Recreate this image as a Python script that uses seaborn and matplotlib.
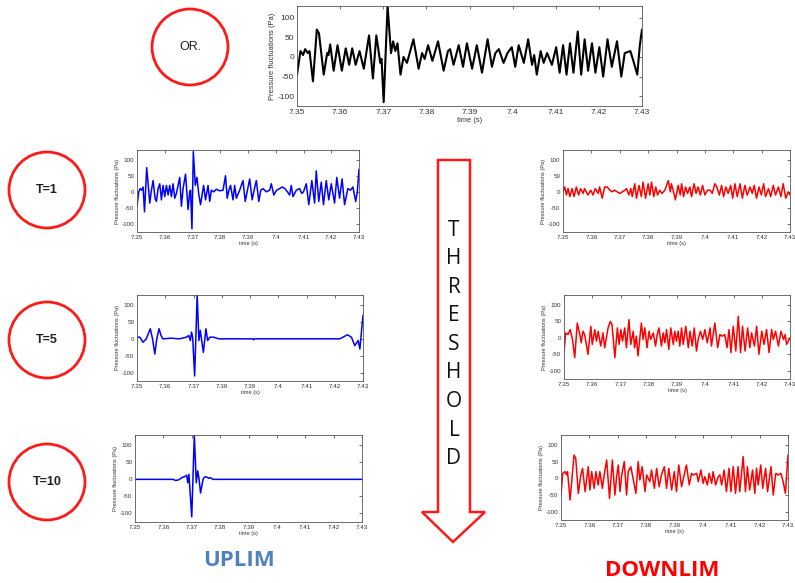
import numpy as np
import matplotlib
matplotlib.use("Agg")
import matplotlib.pyplot as plt
from matplotlib.patches import Circle, Polygon
import seaborn as sns

# turning points: time in ms after 7.35 s, pressure in Pa
or_t = [0.0, 0.8, 1.4, 1.9, 2.5, 2.9, 3.7, 4.6, 5.1, 6.2, 7.0, 7.3, 7.7, 8.5, 9.4, 10.4,
        11.3, 12.1, 12.8, 13.6, 14.5, 15.5, 16.7, 17.6, 18.4, 19.3, 19.6, 20.1, 21.0, 21.8,
        22.3, 22.8, 23.3, 24.0, 24.7, 25.5, 27.0, 28.2, 29.0, 29.6, 30.4, 31.4, 32.7, 34.0,
        35.0, 35.5, 36.3, 37.5, 38.5, 39.4, 40.6, 41.7, 42.9, 44.2, 45.2, 46.0, 46.8, 47.9,
        48.8, 49.8, 50.6, 51.4, 52.6, 53.6, 54.5, 55.0, 55.6, 56.5, 57.2, 58.0, 59.1, 60.1,
        60.9, 61.7, 62.5, 63.3, 64.1, 65.1, 65.9, 66.7, 67.5, 68.4, 69.2, 70.1, 71.0, 72.0,
        73.0, 74.2, 75.2, 76.0, 77.3, 78.0, 78.9, 79.5, 80.0]
or_p = [-45, 15, 5, 20, 10, 15, -62, 70, 60, -45, 10, 5, 32, -35, 30, -35,
        22, -20, 22, -20, 15, -30, 55, -55, 55, -15, -5, -115, 130, 10,
        40, 15, 35, -45, 0, -15, 45, -30, 10, -5, 30, -10, 40, -35,
        15, 20, -20, 30, -25, 35, -30, 30, -40, 45, -25, 10, 20, -15,
        10, 25, -25, 30, -15, 45, -20, 5, -45, 15, -15, 10, -20, 25,
        -40, 30, -45, 35, -40, 65, -45, 45, -35, 35, -40, 25, -50, 45,
        -25, 40, -50, 10, 15, -10, -45, 30, 70]

up1_t = [0.0, 0.6, 1.2, 1.7, 2.2, 2.7, 3.5, 4.6, 5.2, 5.8, 6.5, 7.0, 7.6, 8.2, 8.8, 9.4,
         10.0, 10.6, 11.2, 11.8, 12.4, 13.0, 13.6, 14.2, 15.4, 16.0, 16.6, 17.5, 18.4, 19.0,
         19.3, 19.8, 20.3, 21.0, 21.6, 22.3, 22.9, 24.0, 24.7, 25.6, 26.2, 26.8, 27.7, 28.6,
         29.8, 31.0, 31.9, 32.5, 33.1, 33.7, 34.6, 35.2, 35.8, 37.0, 38.2, 39.0, 39.8, 40.6,
         41.5, 42.2, 43.0, 43.9, 44.6, 45.4, 46.6, 47.8, 48.4, 49.3, 50.3, 51.4, 52.3, 53.3,
         54.2, 55.0, 55.6, 56.2, 57.4, 58.6, 59.4, 60.0, 61.0, 61.9, 63.0, 64.0, 64.6, 65.5,
         66.4, 67.2, 68.2, 69.1, 70.0, 71.2, 72.0, 73.0, 73.9, 74.8, 76.0, 76.9, 77.8, 78.8,
         79.4, 80.0]
up1_p = [-45, 0, 10, 5, 15, -62, 75, -35, 5, 35, -20, -30, 10, 25, -25, 20,
         -15, 20, -10, 20, -15, 25, -20, -5, 45, -45, 10, 55, -55, 0,
         5, -115, 125, 20, 45, -10, -40, 20, -25, 20, -30, 5, 0, 8,
         3, 5, 50, -20, 5, 20, -25, 20, -20, 5, 35, -30, 5, 40,
         -25, 5, 35, -30, 5, 10, 0, 5, 25, -10, 5, 10, 15, 10,
         0, -10, 20, -15, 5, 10, -5, 0, 25, -40, 35, -35, 65, -30,
         30, -40, 35, -25, 25, -35, 45, -20, 40, -40, 10, 5, 15, -30,
         0, 70]

up5_t = [0.0, 1.0, 2.1, 3.3, 4.7, 5.5, 6.3, 7.0, 7.8, 8.5, 9.2, 12.0, 15.0, 17.5, 18.3,
         18.9, 19.3, 19.7, 20.4, 21.3, 21.9, 22.4, 22.9, 23.5, 24.4, 25.0, 25.8, 27.0, 29.0,
         41.0, 41.3, 41.6, 71.8, 74.5, 75.9, 77.1, 78.3, 78.9, 80.0]
up5_p = [5, 5, -10, 0, 30, 0, -45, 0, 30, 10, 0, 2, 0, 5, 10,
         -5, 20, 5, -110, 130, -5, 25, -5, -40, 30, -5, 5, 5, 0,
         0, -3, 0, 0, 12, 5, -20, -5, -30, 70]

up10_t = [0.0, 13.5, 14.1, 15.3, 16.5, 17.5, 18.2, 18.6, 19.0, 20.0, 20.9, 21.6, 22.1,
          22.6, 23.1, 24.0, 24.3, 25.0, 26.0, 26.5, 27.5, 30.0, 80.0]
up10_p = [0, 0, -3, -2, 5, 8, 12, -10, 15, -110, 130, -10, 25,
          0, -40, 0, 5, 8, 3, 5, 0, 0, 0]

dn1_t = [0.0, 0.6, 1.2, 1.8, 2.4, 3.2, 3.9, 4.7, 5.5, 6.2, 7.1, 7.6, 8.8, 9.8, 10.6, 11.4,
         12.4, 12.9, 13.8, 14.7, 15.6, 16.5, 17.3, 18.2, 20.0, 21.8, 22.4, 23.2, 23.9, 24.4,
         25.3, 25.9, 26.8, 27.6, 28.2, 29.1, 30.0, 30.6, 31.2, 32.0, 32.7, 33.3, 34.1, 34.9,
         35.9, 37.1, 37.8, 38.2, 39.1, 39.6, 40.6, 41.3, 41.8, 42.5, 43.2, 43.9, 44.7, 45.3,
         46.2, 46.9, 47.6, 48.4, 49.2, 50.0, 50.9, 51.8, 52.6, 53.5, 54.2, 55.1, 55.9, 56.6,
         57.4, 58.2, 59.1, 59.8, 60.6, 61.4, 62.4, 63.2, 64.1, 64.9, 65.9, 66.7, 67.4, 68.2,
         69.1, 69.9, 70.7, 71.4, 72.4, 73.2, 74.1, 74.9, 75.9, 76.8, 77.6, 78.5, 79.4, 80.0]
dn1_p = [0, 15, -10, 10, -15, 10, -15, 15, -10, 10, -5, 10, -10, 5, -10, 10,
         -5, 15, -20, 15, 15, 5, 0, 5, -5, 5, 10, -10, 10, -15,
         25, -20, 20, -15, 30, -20, 25, -10, 30, -15, 15, -10, 5, -5,
         5, 35, 0, 25, -5, -25, 20, -10, 25, -15, 15, -5, 15, -15,
         25, -5, 15, -10, 20, -10, 5, 5, -5, 25, 15, -10, 20, -15,
         15, -5, 20, -20, 25, -15, 25, -20, 20, -10, 15, -5, 20, -20,
         15, -10, 25, -15, 10, -15, 20, -10, 15, -15, 25, -20, 0, -10]

dn5_t = [0.0, 0.6, 1.4, 2.2, 3.0, 3.8, 4.7, 5.6, 6.1, 6.7, 7.3, 8.5, 9.5, 10.0, 10.9, 11.5,
         12.1, 13.0, 13.8, 14.4, 15.6, 16.4, 17.0, 18.0, 18.9, 19.5, 20.1, 20.7, 21.5, 22.1,
         23.0, 23.6, 24.5, 25.0, 25.6, 26.2, 27.4, 28.0, 28.6, 29.4, 30.1, 30.7, 31.6, 32.4,
         33.0, 33.6, 34.5, 35.1, 35.7, 36.3, 37.1, 37.8, 38.7, 39.2, 39.8, 40.4, 41.0, 41.6,
         42.2, 43.1, 44.0, 44.6, 45.4, 46.1, 46.9, 47.5, 48.3, 49.1, 49.9, 50.7, 51.7, 52.2,
         53.4, 54.4, 55.2, 56.0, 56.9, 57.7, 58.4, 59.1, 59.9, 60.8, 61.7, 62.5, 63.2, 64.1,
         65.0, 65.8, 66.4, 67.4, 68.2, 69.0, 70.0, 70.8, 71.7, 72.6, 73.5, 74.1, 74.9, 75.9,
         76.8, 77.7, 78.3, 78.8, 80.0]
dn5_p = [-45, 15, 10, 25, -5, -60, 45, 10, -15, 20, 10, -50, 35, -20, 25, -10,
         20, -25, 15, -30, 30, 50, 40, -60, 30, -20, 25, -10, 30, -30,
         55, -20, 20, -30, 5, -55, 45, -5, 30, -30, 20, -5, 15, -25,
         10, 30, -25, 15, -15, 25, -35, 30, -20, 20, -10, 20, -25, 30,
         -20, 35, -30, 20, -25, 30, -40, -5, 20, -5, 25, -15, 30, -25,
         45, -30, 10, 5, 10, -30, 25, -45, 35, -40, 65, -45, 35, -40,
         30, -30, 15, -25, 35, -50, 20, -20, 25, -45, 25, -5, 20, -25,
         20, -5, 10, -20, 0]

dn10_t = [0.0, 0.6, 1.4, 2.0, 2.3, 3.2, 4.6, 5.2, 6.1, 7.0, 7.6, 8.5, 9.6, 10.2, 10.8, 11.7,
          12.3, 13.1, 13.7, 14.6, 15.3, 16.1, 17.1, 18.1, 19.0, 19.6, 20.2, 20.8, 21.4, 22.3,
          23.1, 23.7, 24.6, 25.5, 26.4, 27.2, 27.8, 28.6, 29.6, 30.2, 31.3, 31.9, 32.9, 33.7,
          34.6, 35.4, 36.4, 37.2, 38.0, 39.0, 39.9, 40.7, 41.5, 42.5, 43.4, 44.2, 45.2, 46.0,
          46.6, 47.8, 48.4, 49.3, 50.1, 50.7, 51.6, 52.2, 53.1, 53.6, 54.5, 55.4, 56.0, 56.6,
          57.5, 58.3, 59.2, 59.9, 60.7, 61.5, 62.4, 63.0, 64.2, 65.0, 65.7, 66.5, 67.5, 68.3,
          68.9, 69.5, 70.4, 71.1, 72.1, 72.8, 74.0, 74.8, 75.7, 76.5, 77.5, 78.3, 79.1, 80.0]
dn10_p = [-50, 15, 20, 10, 20, -65, 70, 60, -45, 10, 30, -40, 35, -35, 20, -30,
          20, -20, 20, -30, 15, 55, -60, 55, -50, 5, 40, -40, 10, 50,
          -50, 20, 35, -5, -45, 50, -5, 35, -40, 10, -10, 25, -30, 30,
          -25, 10, 35, -30, 30, -35, 20, -40, 40, -25, 10, 40, -20, 15,
          10, 15, -10, 25, -15, 5, -20, 15, -15, 20, -20, 5, 10, -20,
          25, -40, 30, -40, 35, -45, 35, -40, 65, -40, 35, -35, 25, -45,
          30, -20, 40, -30, 30, -40, 35, -50, 15, 10, 15, -10, -45, 70]

xtick_vals = [7.35, 7.36, 7.37, 7.38, 7.39, 7.40, 7.41, 7.42, 7.43]
xtick_labels = ["7.35", "7.36", "7.37", "7.38", "7.39", "7.4", "7.41", "7.42", "7.43"]
ytick_vals = [-100, -50, 0, 50, 100]

sns.set_style("white")
plt.rcParams["font.family"] = ["Liberation Sans", "DejaVu Sans"]
plt.rcParams["axes.unicode_minus"] = False

W, H = 795, 583
fig = plt.figure(figsize=(W / 100, H / 100), dpi=100)

# background layer in pixel units for the circles, arrow and captions
bg = fig.add_axes([0, 0, 1, 1])
bg.set_xlim(0, W)
bg.set_ylim(H, 0)
bg.axis("off")


def panel(box, t_ms, p, color, lw, fs):
    x0, y0, x1, y1 = box
    ax = fig.add_axes([x0 / W, 1 - y1 / H, (x1 - x0) / W, (y1 - y0) / H])
    t = 7.35 + np.array(t_ms) / 1000.0
    sns.lineplot(x=t, y=np.array(p), ax=ax, color=color, linewidth=lw,
                 estimator=None, sort=False)
    ax.set_xlim(7.35, 7.43)
    ax.set_ylim(-125, 130)
    ax.set_xticks(xtick_vals)
    ax.set_xticklabels(xtick_labels)
    ax.set_yticks(ytick_vals)
    ax.tick_params(direction="in", length=2, width=0.5, top=True, right=True,
                   labelsize=fs, colors="#333333", pad=2)
    ax.set_xlabel("time (s)", fontsize=fs * 0.9, labelpad=1, color="#333333")
    ax.set_ylabel("Pressure fluctuations (Pa)", fontsize=fs * 0.9, labelpad=1,
                  color="#333333")
    for s in ax.spines.values():
        s.set_linewidth(0.6)
        s.set_color("#555555")
    return ax


panel((297, 6, 642, 106), or_t, or_p, "black", 1.5, 6)
panel((137, 150, 359, 232), up1_t, up1_p, "#0000ff", 1.1, 4.5)
panel((137, 295, 363, 381), up5_t, up5_p, "#0000ff", 1.1, 4.5)
panel((135, 435, 362, 522), up10_t, up10_p, "#0000ff", 1.1, 4.5)
panel((563, 150, 790, 232), dn1_t, dn1_p, "#ff0000", 1.1, 4.5)
panel((564, 295, 790, 379), dn5_t, dn5_p, "#ff0000", 1.1, 4.5)
panel((561, 435, 788, 520), dn10_t, dn10_p, "#ff0000", 1.1, 4.5)

# circled labels
for (cx, cy), lab, wt in [((190, 47), "OR.", "normal"), ((47, 190), "T=1", "bold"),
                          ((47, 340), "T=5", "bold"), ((47, 482), "T=10", "bold")]:
    bg.add_patch(Circle((cx, cy), 38, fill=False, edgecolor="#ff1a1a", linewidth=2))
    bg.text(cx, cy, lab, ha="center", va="center", fontsize=9, fontweight=wt,
            color="#222222")

# threshold arrow
arrow = Polygon([(438, 160), (470, 160), (470, 512), (485, 512), (453, 542),
                 (422, 512), (438, 512)], closed=True, facecolor="white",
                edgecolor="#ff1a1a", linewidth=1.8)
bg.add_patch(arrow)
for i, ch in enumerate("THRESHOLD"):
    bg.text(454, 230 + i * 28.6, ch, ha="center", va="center", fontsize=15,
            family="Open Sans", color="#111111")

bg.text(239, 561, "UPLIM", ha="center", va="center", fontsize=16,
        fontweight="bold", family="Open Sans", color="#4f81bd")
bg.text(662, 570, "DOWNLIM", ha="center", va="center", fontsize=16,
        fontweight="bold", family="Open Sans", color="#ff0000")

fig.savefig("out.png", dpi=100)
